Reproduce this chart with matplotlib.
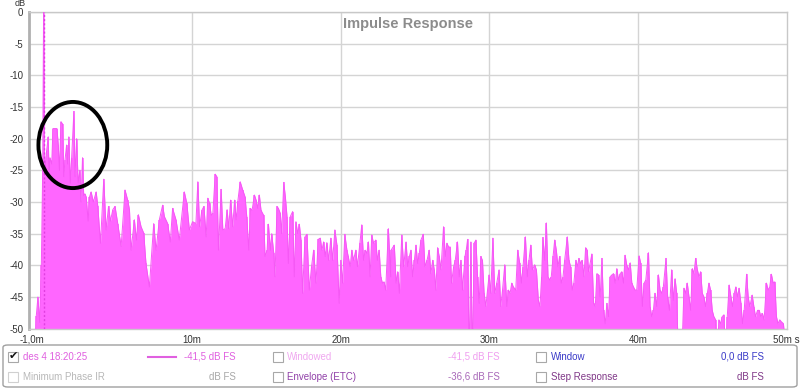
import matplotlib
matplotlib.use("Agg")
import matplotlib.pyplot as plt
import matplotlib.transforms as mtransforms
import numpy as np
from matplotlib.patches import Ellipse, FancyBboxPatch, Rectangle

plt.rcParams['font.family'] = ['Liberation Sans', 'DejaVu Sans']

# ---------------- data (time in ms, level in dB) ----------------
t_early = [-1.0, -0.6, -0.49, -0.38, -0.26, -0.15, -0.06, 0.0, 0.06, 0.11, 0.2, 0.315, 0.37, 0.43,
           0.55, 0.63, 0.78, 0.90, 0.99, 1.07, 1.17, 1.28, 1.36, 1.44, 1.55, 1.62, 1.70, 1.80, 1.89,
           2.04, 2.12, 2.22, 2.33, 2.44, 2.52, 2.62, 2.70, 2.78, 2.87, 3.0, 3.09, 3.2, 3.35, 3.54,
           3.65, 3.83, 4.05, 4.21, 4.37, 4.5, 4.66, 4.81, 4.99, 5.22, 5.48, 5.66, 5.78, 5.89, 6.11,
           6.25, 6.38, 6.56, 6.74, 6.89, 7.12, 7.41, 7.57, 7.79, 8.01, 8.13, 8.35, 8.53, 8.68, 8.91,
           9.13, 9.47, 9.64, 9.81, 10.03, 10.25]
db_early = [-55, -55, -48, -45, -49, -40, -25, 0, -22, -25, -22, -19.7, -26, -23,
            -24, -18.4, -18.4, -18.4, -21, -25, -17.3, -17.7, -26, -23.4, -21, -24, -19.7, -27, -23,
            -15.7, -26, -20, -27, -25, -30, -23, -29, -28.7, -29.2, -33, -29.2, -28.4, -30, -28.4,
            -30.7, -36.5, -26.4, -34.4, -30.7, -33, -31.2, -30.7, -33.4, -37, -28.1, -29.7, -31.2, -37.6, -32.8,
            -36, -32, -33.9, -34.9, -39.7, -43.4, -33.4, -37.6, -32.8, -30.5, -32.3, -33.4, -36.3, -31, -32.8,
            -36, -28.4, -30.2, -34.4, -33.1, -33.4]

t_mid = [10.38, 10.50, 10.65, 10.79, 10.94, 11.05, 11.17, 11.28, 11.39, 11.55, 11.66, 11.77, 11.95,
         12.06, 12.22, 12.35, 12.46, 12.58, 12.73, 12.85, 12.96, 13.07, 13.23, 13.40, 13.56, 13.67,
         13.81, 13.92, 14.03, 14.19, 14.30, 14.41, 14.52, 14.63, 14.81, 14.90, 15.04, 15.13, 15.26,
         15.35, 15.49, 15.57, 15.71, 15.80, 15.93, 16.02, 16.16, 16.27, 16.38, 16.47, 16.60, 16.76,
         16.87, 16.98, 17.10, 17.21, 17.32, 17.43, 17.59, 17.72, 17.88, 18.03, 18.17, 18.33, 18.48,
         18.62, 18.73, 18.84, 18.95, 19.06, 19.18, 19.33, 19.45, 19.60, 19.74, 19.89, 20.00, 20.12,
         20.27, 20.41, 20.50, 20.63, 20.74, 20.85, 21.01, 21.12, 21.28, 21.41, 21.53, 21.64, 21.75,
         21.86, 21.97, 22.08, 22.20, 22.35, 22.46, 22.58, 22.69, 22.80, 22.91, 23.02, 23.20, 23.36]
db_mid = [-26.8, -33.9, -31.3, -30.7, -35.5, -29.4, -30.2, -32.1, -31.8, -25.6, -26.0, -37.6, -28.0,
          -34.4, -34.2, -31.2, -34.2, -29.7, -33.9, -29.7, -32.8, -29.9, -26.8, -28.1, -29.2, -32.3,
          -37.6, -31.0, -31.3, -28.9, -29.7, -31.0, -28.9, -31.3, -32.1, -38.6, -37.6, -33.5, -37.6,
          -35.0, -38.1, -41.8, -30.7, -31.0, -31.8, -35.0, -26.9, -29.2, -32.3, -39.7, -32.3, -31.5,
          -41.8, -33.1, -35.0, -33.5, -36.0, -44.4, -35.5, -35.1, -43.9, -40.2, -37.6, -42.8, -35.9,
          -35.7, -37.6, -36.3, -38.6, -36.4, -39.2, -35.7, -39.2, -34.4, -36.8, -46.0, -39.2, -42.8,
          -35.1, -37.6, -38.6, -40.2, -37.6, -39.2, -37.6, -40.2, -36.5, -33.6, -39.2, -37.6, -38.1,
          -36.3, -41.8, -35.2, -36.5, -36.0, -39.2, -37.6, -41.8, -42.8, -42.6, -43.9, -34.2, -41.8]

t_late = [23.38, 23.60, 23.72, 23.83, 23.94, 24.10, 24.23, 24.39, 24.50, 24.61, 24.72, 24.83, 24.95,
          25.06, 25.17, 25.28, 25.39, 25.55, 25.66, 25.80, 25.95, 26.06, 26.18, 26.29, 26.40, 26.51,
          26.62, 26.74, 26.91, 27.03, 27.14, 27.25, 27.36, 27.45, 27.59, 27.70, 27.85, 27.97, 28.08,
          28.19, 28.35, 28.44, 28.53, 28.64, 28.75, 28.86, 28.97, 29.09, 29.20, 29.31, 29.42, 29.53,
          29.64, 29.76, 29.87, 29.98, 30.09, 30.23, 30.36, 30.49, 30.65, 30.76, 30.88, 31.03, 31.17,
          31.28, 31.39, 31.50, 31.61, 31.77, 31.90, 32.04, 32.15, 32.26, 32.42, 32.55, 32.66, 32.78,
          32.89, 33.04, 33.16, 33.29, 33.40, 33.51, 33.60, 33.72, 33.83, 33.94, 34.05, 34.16, 34.28,
          34.39, 34.50, 34.61, 34.72, 34.83, 34.95, 35.06, 35.24, 35.35, 35.46, 35.57, 35.68, 35.82,
          35.91, 36.02, 36.13, 36.24, 36.36, 36.47, 36.58]
db_late = [-37.6, -36.8, -42.8, -41.0, -44.4, -35.2, -40.2, -36.3, -40.2, -38.6, -37.6, -41.8, -39.2,
           -36.8, -39.7, -38.1, -36.0, -35.1, -40.2, -39.2, -37.6, -41.3, -39.2, -40.7, -43.9, -37.2,
           -38.6, -40.7, -33.9, -38.6, -36.5, -37.1, -37.1, -42.8, -40.2, -39.2, -36.3, -41.8, -39.2,
           -43.9, -38.6, -37.6, -35.9, -55, -36.3, -55, -36.5, -36.0, -41.8, -46.0, -38.6, -39.2,
           -44.4, -46.5, -43.9, -41.5, -44.4, -35.7, -44.4, -42.8, -40.7, -46.5, -43.9, -39.9, -46.5,
           -43.9, -44.4, -42.8, -43.4, -43.9, -37.6, -39.7, -42.8, -40.2, -35.5, -41.8, -39.2, -36.8,
           -40.7, -39.9, -40.7, -45.5, -46.5, -41.8, -35.6, -39.2, -33.3, -41.8, -42.3, -41.8, -38.6,
           -36.0, -37.6, -40.2, -38.6, -42.8, -41.8, -39.2, -35.5, -39.2, -40.2, -43.9, -42.8, -39.2,
           -40.2, -38.9, -39.7, -39.2, -41.8, -37.2, -37.6]

t_tail = [36.67, 36.89, 37.01, 37.12, 37.23, 37.34, 37.45, 37.57, 37.68, 37.79, 37.90, 38.01, 38.12,
          38.24, 38.35, 38.46, 38.57, 38.68, 38.80, 38.91, 39.02, 39.13, 39.24, 39.35, 39.47, 39.58,
          39.69, 39.80, 39.91, 40.07, 40.18, 40.29, 40.41, 40.52, 40.70, 40.81, 40.92, 41.03, 41.14,
          41.26, 41.37, 41.48, 41.59, 41.70, 41.88, 41.99, 42.11, 42.26, 42.37, 42.49, 42.60, 42.71,
          42.82, 42.93, 43.09, 43.20, 43.31, 43.43, 43.54, 43.65, 43.76, 43.87, 43.99, 44.10, 44.21,
          44.32, 44.43, 44.54, 44.66, 44.77, 44.88, 44.99, 45.10, 45.22, 45.33, 45.44, 45.55, 45.66,
          45.78, 45.89, 46.00, 46.13, 46.25, 46.36, 46.47, 46.58, 46.69, 46.80, 46.92, 47.03, 47.14,
          47.30, 47.41, 47.52, 47.68, 47.79, 47.90, 48.04, 48.15, 48.26, 48.37, 48.48, 48.64, 48.75,
          48.86, 48.97, 49.09, 49.20, 49.31, 49.42, 49.53, 49.64, 49.78, 50.0]
db_tail = [-41.0, -38.2, -46.0, -46.5, -41.3, -41.5, -45.0, -38.9, -47.1, -49.2, -46.0, -48.1, -41.8,
           -41.5, -41.3, -42.8, -40.5, -42.3, -41.3, -41.0, -42.8, -38.4, -40.0, -40.7, -39.6, -42.8,
           -43.4, -43.9, -43.9, -38.5, -39.7, -46.5, -42.8, -42.3, -38.0, -46.5, -48.1, -47.1, -44.4,
           -46.5, -41.5, -43.9, -44.4, -43.4, -38.9, -45.0, -47.1, -40.7, -45.5, -42.1, -44.4, -55,
           -55, -55, -43.6, -44.4, -42.8, -45.0, -47.1, -40.5, -41.3, -38.9, -40.7, -41.8, -41.0,
           -44.4, -45.0, -46.5, -44.4, -42.8, -43.9, -47.1, -48.1, -48.6, -55, -48.6, -49.2, -48.1,
           -47.8, -55, -48.1, -43.1, -45.0, -46.5, -44.4, -43.4, -45.0, -43.6, -46.0, -49.2, -47.1,
           -41.4, -45.0, -46.5, -44.7, -46.5, -48.1, -47.1, -47.1, -48.1, -47.6, -48.6, -42.8, -43.9,
           -43.4, -41.4, -42.8, -42.6, -48.1, -49.2, -48.6, -48.9, -49.2, -55]

x_ticks = [-1.0, 10, 20, 30, 40, 50]
x_tick_labels = ["-1,0m", "10m", "20m", "30m", "40m", "50m s"]
y_ticks = [0, -5, -10, -15, -20, -25, -30, -35, -40, -45, -50]

t = np.array(t_early + t_mid + t_late + t_tail)
db = np.array(db_early + db_mid + db_late + db_tail)

# ---------------- figure ----------------
W, H = 800, 389
fig = plt.figure(figsize=(W / 100, H / 100), dpi=100)
fig.patch.set_facecolor('white')
L, R, T, B = 28.7, 786.7, 12.0, 328.7
ax = fig.add_axes([L / W, 1 - B / H, (R - L) / W, (B - T) / H])
ax.set_xlim(-1.0, 50.0)
ax.set_ylim(-50, 0)

mag = '#ff66ff'
ax.fill_between(t, db, -60, color=mag, lw=0, zorder=2)
ax.vlines(t, -60, db, color=mag, lw=1.1, zorder=2)
ax.plot(t, db, color='#f558f5', lw=0.7, zorder=3)
ax.axvline(0.0, color='#e040e0', lw=1.0, ls=(0, (1.5, 1.5)), zorder=4)

for yv in y_ticks:
    ax.axhline(yv, color='#d4d4d4', lw=1.0, zorder=1)
for xv in x_ticks[1:-1]:
    ax.axvline(xv, color='#d4d4d4', lw=1.0, zorder=1)

ax.set_xticks(x_ticks)
ax.set_xticklabels(x_tick_labels)
ax.set_yticks(y_ticks)
ax.set_yticklabels([str(v) for v in y_ticks])
ax.tick_params(length=0, labelsize=7, colors='#333333')
ax.tick_params(axis='y', pad=4)
ax.tick_params(axis='x', pad=4.5)
first = ax.get_xticklabels()[0]
first.set_transform(first.get_transform() + mtransforms.ScaledTranslation(3 / 100, 0, fig.dpi_scale_trans))
for s in ['top', 'right', 'bottom']:
    ax.spines[s].set_color('#c8c8c8')
    ax.spines[s].set_linewidth(1.0)
ax.spines['left'].set_color('#b0b0b0')
ax.spines['left'].set_linewidth(2.0)

ax.text(0.5, 0.985, 'Impulse Response', transform=ax.transAxes, ha='center', va='top',
        fontsize=10.5, fontweight='bold', color='#8c8c8c', zorder=6)
fig.text(20 / W, 1 - 4 / H, 'dB', ha='center', va='center', fontsize=6.5, color='#333333')

ell = Ellipse((1.97, -21.0), 4.63, 13.6, fill=False, ec='black', lw=2.8, zorder=7)
ax.add_patch(ell)

# ---------------- legend panel ----------------
def fx(x):
    return x / W

def fy(y):
    return 1 - y / H

panel = FancyBboxPatch((fx(3), fy(387)), fx(794), 42 / H,
                       boxstyle='round,pad=0,rounding_size=0.006', transform=fig.transFigure,
                       fc='white', ec='#a0a0a0', lw=1.0)
fig.patches.append(panel)

def checkbox(x, y, checked=False, ec='#a8a8a8'):
    r = Rectangle((fx(x), fy(y + 5)), 10 / W, 10 / H, transform=fig.transFigure,
                  fc='white', ec=ec, lw=0.8)
    fig.patches.append(r)
    if checked:
        fig.text(fx(x + 5.5), fy(y - 0.5), '\u2714', ha='center', va='center',
                 fontsize=8, color='#111111', family='DejaVu Sans')

r1, r2 = 356.7, 376.7
fs = 7
checkbox(8, r1, True)
fig.text(fx(23), fy(r1), 'des 4 18:20:25', ha='left', va='center', fontsize=fs, color='#e060e0')
fig.lines.append(plt.Line2D([fx(148), fx(176)], [fy(r1), fy(r1)], transform=fig.transFigure,
                            color='#e060e0', lw=1.5))
fig.text(fx(236), fy(r1), '-41,5 dB FS', ha='right', va='center', fontsize=fs, color='#e060e0')
checkbox(273, r1)
fig.text(fx(287), fy(r1), 'Windowed', ha='left', va='center', fontsize=fs, color='#f0a8f0')
fig.text(fx(500), fy(r1), '-41,5 dB FS', ha='right', va='center', fontsize=fs, color='#f0a0f0')
checkbox(536, r1)
fig.text(fx(551), fy(r1), 'Window', ha='left', va='center', fontsize=fs, color='#3a3ac8')
fig.text(fx(764), fy(r1), '0,0 dB FS', ha='right', va='center', fontsize=fs, color='#3a3ac8')

checkbox(8, r2, False, ec='#d0d0d0')
fig.text(fx(23), fy(r2), 'Minimum Phase IR', ha='left', va='center', fontsize=fs, color='#b8b8b8')
fig.text(fx(236), fy(r2), 'dB FS', ha='right', va='center', fontsize=fs, color='#a8a8a8')
checkbox(273, r2)
fig.text(fx(287), fy(r2), 'Envelope (ETC)', ha='left', va='center', fontsize=fs, color='#9040a8')
fig.text(fx(500), fy(r2), '-36,6 dB FS', ha='right', va='center', fontsize=fs, color='#a868b8')
checkbox(536, r2)
fig.text(fx(551), fy(r2), 'Step Response', ha='left', va='center', fontsize=fs, color='#803888')
fig.text(fx(764), fy(r2), 'dB FS', ha='right', va='center', fontsize=fs, color='#803888')

fig.savefig('out.png', dpi=100)
